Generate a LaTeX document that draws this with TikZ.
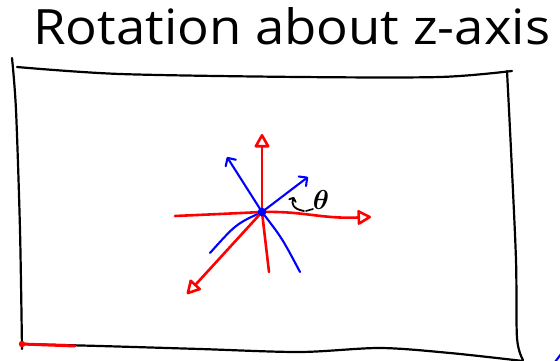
\documentclass[tikz,border=0pt]{standalone}
\usepackage{amsmath}
\usepackage{amssymb}
\usepackage{bm}
\usepackage{fontspec}
\setmainfont{Open Sans}
\usetikzlibrary{arrows.meta}
\tikzset{
  boxline/.style={black, line width=2.2pt, line cap=round, line join=round},
  redaxis/.style={red, line width=2.6pt, line cap=round},
  blueaxis/.style={blue, line width=2.1pt, line cap=round},
  redtip/.style={-{Triangle[open, length=15pt, width=16pt, round]}},
  bluetip/.style={-{Straight Barb[length=6pt, width=12pt, round]}},
}
\begin{document}
\begin{tikzpicture}[x=1pt,y=-1pt]
\useasboundingbox (0,0) rectangle (560,361);
% title
\node[anchor=base west, inner sep=0pt] (title) at (33,45)
  {\resizebox{517pt}{37pt}{Rotation about z-axis}};
% frame
\draw[boxline] plot[smooth] coordinates {(12,58) (16,110) (20,230) (22,349)};
\draw[boxline] plot[smooth] coordinates {(17,67) (120,74) (300,77) (440,77) (512,71)};
\draw[boxline] plot[smooth] coordinates {(507,71) (511,150) (516,260) (517,338) (523,360)};
\draw[boxline] plot[smooth] coordinates {(22,344) (100,346) (200,349) (300,352) (380,348) (450,353) (523,361)};
% red mark bottom-left
\coordinate (rA) at (22,344);
\coordinate (rB) at (75,346);
\draw[red, line width=3pt, line cap=round] (rA) -- (rB);
\fill[red] (rA) circle (3.2);
% blue mark bottom-right
\coordinate (bA) at (555,362);
\coordinate (bB) at (561,354);
\draw[blueaxis] (bA) -- (bB);
% axes
\coordinate (O) at (262,212);
\coordinate (zt) at (262,134);
\coordinate (zb) at (269,272);
\coordinate (xl) at (175,216);
\coordinate (xt) at (371,217);
\coordinate (yt) at (187,294);
\coordinate (b1t) at (227,157);
\coordinate (b1b) at (300,272);
\coordinate (b2t) at (308,177);
\coordinate (b2b) at (210,253);
% blue (rotated) axes
\draw[blueaxis, bluetip] (O) -- (b1t);
\draw[blueaxis] (O) .. controls (282,238) .. (b1b);
\draw[blueaxis, bluetip] (O) -- (b2t);
\draw[blueaxis] (O) .. controls (236,224) .. (b2b);
% red axes
\draw[redaxis] (xl) .. controls (220,214) .. (O);
\draw[redaxis, redtip] (O) .. controls (305,211) and (320,219) .. (xt);
\draw[redaxis, redtip] (O) -- (zt);
\draw[redaxis] (O) -- (zb);
\draw[redaxis, redtip] (O) -- (yt);
\fill[blue] (O) circle (4.3);
% angle label
\coordinate (aS) at (304,211);
\coordinate (aE) at (294,197);
\coordinate (dS) at (306,211);
\coordinate (dE) at (313,209);
\draw[black, line width=1.8pt, line cap=round, -{Straight Barb[length=3pt, width=7pt, round]}]
  (aS) .. controls (293,209) and (291,204) .. (aE);
\draw[black, line width=1.6pt, line cap=round] (dS) -- (dE);
\node[inner sep=0pt] (theta) at (321,200) {\resizebox{!}{19pt}{$\bm{\theta}$}};
\end{tikzpicture}
\end{document}
